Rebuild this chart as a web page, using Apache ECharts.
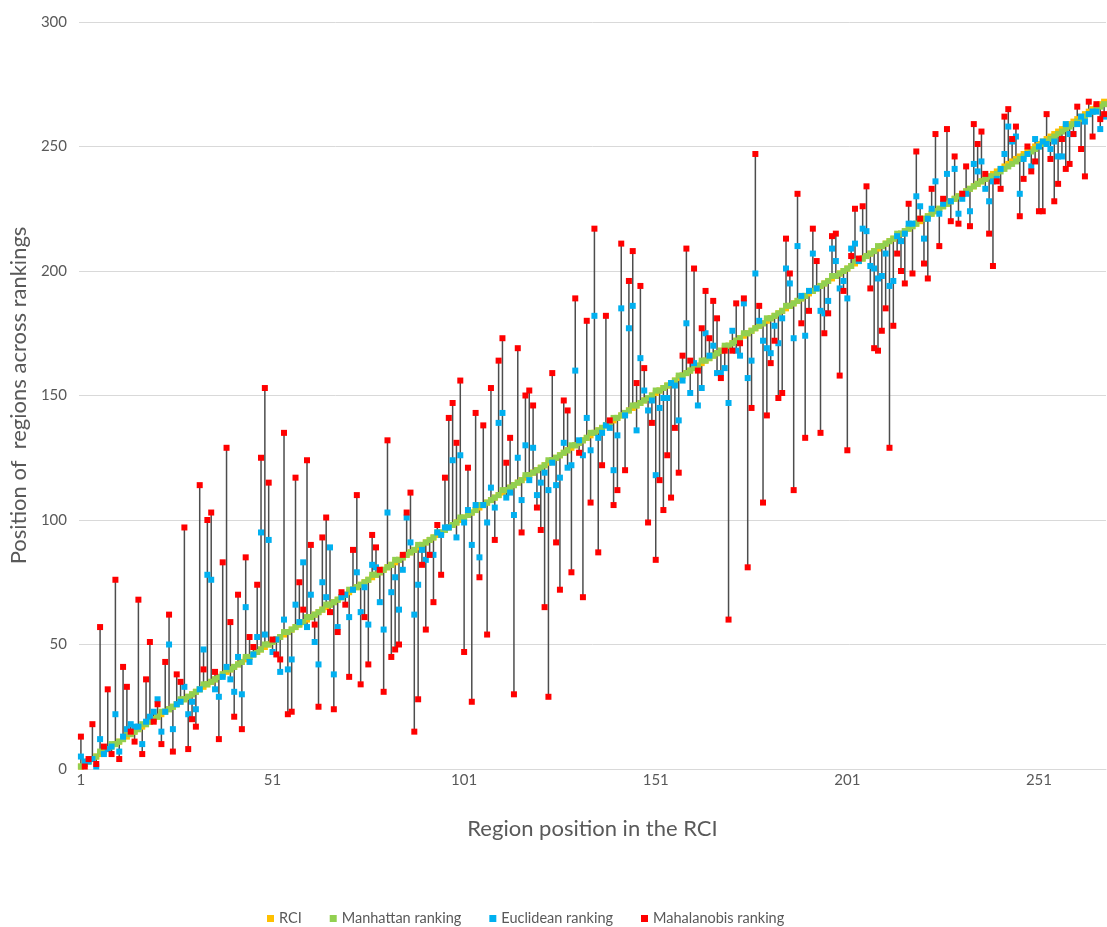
<!DOCTYPE html>
<html>
<head>
<meta charset="utf-8">
<script src="https://cdn.jsdelivr.net/npm/echarts@6/dist/echarts.min.js"></script>
<style>
    html, body { margin: 0; padding: 0; background: #fff; }
    #chart { width: 1107px; height: 927px; }
</style>
</head>
<body>
<div id="chart"></div>
<script>
    // region position in the RCI (x axis categories)
    var regions = [
        1,2,3,4,5,6,7,8,9,10,11,12,13,14,15,16,17,18,19,20,
        21,22,23,24,25,26,27,28,29,30,31,32,33,34,35,36,37,38,39,40,
        41,42,43,44,45,46,47,48,49,50,51,52,53,54,55,56,57,58,59,60,
        61,62,63,64,65,66,67,68,69,70,71,72,73,74,75,76,77,78,79,80,
        81,82,83,84,85,86,87,88,89,90,91,92,93,94,95,96,97,98,99,100,
        101,102,103,104,105,106,107,108,109,110,111,112,113,114,115,116,117,118,119,120,
        121,122,123,124,125,126,127,128,129,130,131,132,133,134,135,136,137,138,139,140,
        141,142,143,144,145,146,147,148,149,150,151,152,153,154,155,156,157,158,159,160,
        161,162,163,164,165,166,167,168,169,170,171,172,173,174,175,176,177,178,179,180,
        181,182,183,184,185,186,187,188,189,190,191,192,193,194,195,196,197,198,199,200,
        201,202,203,204,205,206,207,208,209,210,211,212,213,214,215,216,217,218,219,220,
        221,222,223,224,225,226,227,228,229,230,231,232,233,234,235,236,237,238,239,240,
        241,242,243,244,245,246,247,248,249,250,251,252,253,254,255,256,257,258,259,260,
        261,262,263,264,265,266,267,268
    ];
    // RCI ranking (same order as the x axis)
    var rci = [
        1,2,3,4,5,6,7,8,9,10,11,12,13,14,15,16,17,18,19,20,
        21,22,23,24,25,26,27,28,29,30,31,32,33,34,35,36,37,38,39,40,
        41,42,43,44,45,46,47,48,49,50,51,52,53,54,55,56,57,58,59,60,
        61,62,63,64,65,66,67,68,69,70,71,72,73,74,75,76,77,78,79,80,
        81,82,83,84,85,86,87,88,89,90,91,92,93,94,95,96,97,98,99,100,
        101,102,103,104,105,106,107,108,109,110,111,112,113,114,115,116,117,118,119,120,
        121,122,123,124,125,126,127,128,129,130,131,132,133,134,135,136,137,138,139,140,
        141,142,143,144,145,146,147,148,149,150,151,152,153,154,155,156,157,158,159,160,
        161,162,163,164,165,166,167,168,169,170,171,172,173,174,175,176,177,178,179,180,
        181,182,183,184,185,186,187,188,189,190,191,192,193,194,195,196,197,198,199,200,
        201,202,203,204,205,206,207,208,209,210,211,212,213,214,215,216,217,218,219,220,
        221,222,223,224,225,226,227,228,229,230,231,232,233,234,235,236,237,238,239,240,
        241,242,243,244,245,246,247,248,249,250,251,252,253,254,255,256,257,258,259,260,
        261,262,263,264,265,266,267,268
    ];
    var manhattan = [
        1,2,3,4,5,7,7,8,10,10,11,12,14,14,15,16,18,18,19,20,
        21,23,23,24,25,26,28,28,29,30,31,32,34,34,35,36,37,38,40,40,
        41,42,43,45,45,46,47,48,50,50,51,52,53,55,55,56,57,58,59,61,
        61,62,63,64,66,66,67,68,69,70,72,72,73,74,75,76,78,78,79,80,
        81,82,84,84,85,86,87,88,90,90,91,92,93,95,95,96,97,98,99,101,
        101,102,103,104,106,106,107,108,109,110,112,112,113,114,115,116,118,118,119,120,
        121,122,124,124,125,126,127,128,130,130,131,132,133,135,135,136,137,138,139,141,
        141,142,143,144,146,146,147,148,149,150,152,152,153,154,155,156,158,158,159,160,
        161,162,164,164,165,166,167,168,170,170,171,172,173,175,175,176,177,178,179,181,
        181,182,183,184,186,186,187,188,189,190,192,192,193,194,195,196,198,198,199,200,
        201,202,204,204,205,206,207,208,210,210,211,212,213,215,215,216,217,218,219,221,
        221,222,223,224,225,226,227,228,229,230,231,232,233,234,235,236,237,238,238,239,
        240,241,242,243,244,245,246,247,248,249,250,251,252,253,254,255,256,257,258,259,
        260,261,262,263,264,265,266,267
    ];
    var euclidean = [
        5,3,3,4,1,12,6,8,9,22, 7,13,16,18,17,17,10,19,21,23,
        28,15,23,50,16,26,27,33,22,27, 24,32,48,78,76,32,29,37,41,36,
        31,45,30,65,43,46,53,95,54,92, 47,52,39,60,40,44,66,59,83,57,
        70,51,42,75,69,89,38,57,69,70, 61,72,79,63,73,58,82,81,67,56,
        103,71,77,64,80,101,91,62,74,88, 84,86,86,95,94,97,97,124,93,126,
        99,104,90,106,85,106,99,113,105,139, 143,109,111,102,125,108,130,116,129,110,
        115,119,112,123,114,117,131,121,122,160, 132,126,141,128,182,133,135,138,137,120,
        134,185,142,177,186,136,165,152,144,148, 118,145,149,149,155,154,140,156,179,151,
        163,146,153,175,166,170,159,159,161,147, 176,168,166,187,157,164,199,180,172,169,
        167,178,171,181,201,195,173,210,190,174, 192,207,193,184,183,188,209,204,193,196,
        189,209,211,204,217,216,202,201,197,198, 207,194,196,214,212,215,219,219,230,226,
        213,221,225,236,223,227,239,228,241,223, 229,231,224,243,240,244,233,228,236,237,
        241,247,258,252,254,231,245,247,242,253, 250,252,251,249,252,246,246,259,255,255,
        259,262,260,263,264,264,257,262
    ];
    var mahalanobis = [
        13,1,4,18,2,57,9,32,6,76, 4,41,33,15,11,68,6,36,51,19,
        26,10,43,62,7,38,35,97,8,20, 17,114,40,100,103,39,12,83,129,59,
        21,70,16,85,53,49,74,125,153,115, 52,46,44,135,22,23,117,75,64,124,
        90,58,25,93,101,63,24,55,71,66, 37,88,110,34,61,42,94,89,80,31,
        132,45,48,50,86,103,111,15,28,82, 56,86,67,98,78,117,141,147,131,156,
        47,121,27,143,77,138,54,153,92,164, 173,123,133,30,169,95,150,152,146,105,
        96,65,29,159,91,72,148,144,79,189, 127,69,180,107,217,87,122,182,140,106,
        112,211,120,196,208,155,194,161,99,139, 84,116,104,126,109,137,119,166,209,164,
        201,160,177,192,173,188,181,157,168,60, 168,187,171,189,81,145,247,186,107,142,
        163,172,149,151,213,199,112,231,179,133, 184,217,204,135,175,183,214,215,158,192,
        128,206,225,205,226,234,193,169,168,176, 185,129,178,207,200,195,227,199,248,221,
        203,197,233,255,210,229,257,220,246,219, 231,242,218,259,251,256,239,215,202,236,
        233,262,265,253,258,222,237,250,240,244, 224,224,263,245,228,235,253,241,243,255,
        266,249,238,268,254,267,261,263
    ];
    var seriesNames = ['RCI', 'Manhattan ranking', 'Euclidean ranking', 'Mahalanobis ranking'];
    var seriesColors = ['#FFC000', '#92D050', '#00B0F0', '#FF0000'];
    var yMin = 0, yMax = 300, yStep = 50;
    var xLabelStep = 50;

    // high-low lines: from lowest to highest ranking of each region
    var hiLo = [];
    for (var k = 0; k < regions.length; k++) {
        var vals = [rci[k], manhattan[k], euclidean[k], mahalanobis[k]];
        hiLo.push([k, Math.min.apply(null, vals), Math.max.apply(null, vals)]);
    }

    var font = 'Lato, "Open Sans", sans-serif';
    var grey = '#595959';

    function scatter(name, data, color) {
        return {
            name: name,
            type: 'scatter',
            data: data,
            symbol: 'rect',
            symbolSize: 6,
            itemStyle: {color: color, opacity: 1},
            z: 3
        };
    }

    var chart = echarts.init(document.getElementById('chart'));
    var option = {
        animation: false,
        color: seriesColors,
        textStyle: {fontFamily: font, color: grey},
        grid: {left: 75, right: 1, top: 22, bottom: 158},
        legend: {
            data: seriesNames,
            left: 262,
            top: 906,
            icon: 'rect',
            itemWidth: 7,
            itemHeight: 7,
            itemGap: 28,
            textStyle: {color: grey, fontSize: 14.5, fontFamily: font}
        },
        xAxis: {
            type: 'category',
            data: regions,
            boundaryGap: true,
            axisLine: {lineStyle: {color: '#d9d9d9', width: 1}},
            axisTick: {show: false},
            axisLabel: {interval: xLabelStep - 1, color: grey, fontSize: 15, margin: 4, fontFamily: font},
            splitLine: {show: false},
            name: 'Region position in the RCI',
            nameLocation: 'middle',
            nameGap: 49,
            nameTextStyle: {color: grey, fontSize: 22, fontFamily: font}
        },
        yAxis: {
            type: 'value',
            min: yMin,
            max: yMax,
            interval: yStep,
            axisLine: {show: false},
            axisTick: {show: false},
            axisLabel: {color: grey, fontSize: 15, margin: 12, fontFamily: font},
            splitLine: {lineStyle: {color: '#d9d9d9', width: 1}},
            name: 'Position of  regions across rankings',
            nameLocation: 'middle',
            nameGap: 43,
            nameTextStyle: {color: grey, fontSize: 22, fontFamily: font}
        },
        series: [
            {
                name: 'hilo',
                type: 'custom',
                data: hiLo,
                encode: {x: 0, y: [1, 2]},
                z: 1,
                silent: true,
                renderItem: function (params, api) {
                    var lo = api.coord([api.value(0), api.value(1)]);
                    var hi = api.coord([api.value(0), api.value(2)]);
                    return {
                        type: 'line',
                        shape: {x1: lo[0], y1: lo[1], x2: hi[0], y2: hi[1]},
                        style: {stroke: '#4d4d4d', lineWidth: 1.5}
                    };
                }
            },
            scatter(seriesNames[0], rci, seriesColors[0]),
            scatter(seriesNames[1], manhattan, seriesColors[1]),
            scatter(seriesNames[2], euclidean, seriesColors[2]),
            scatter(seriesNames[3], mahalanobis, seriesColors[3])
        ]
    };
    chart.setOption(option);
</script>
</body>
</html>
